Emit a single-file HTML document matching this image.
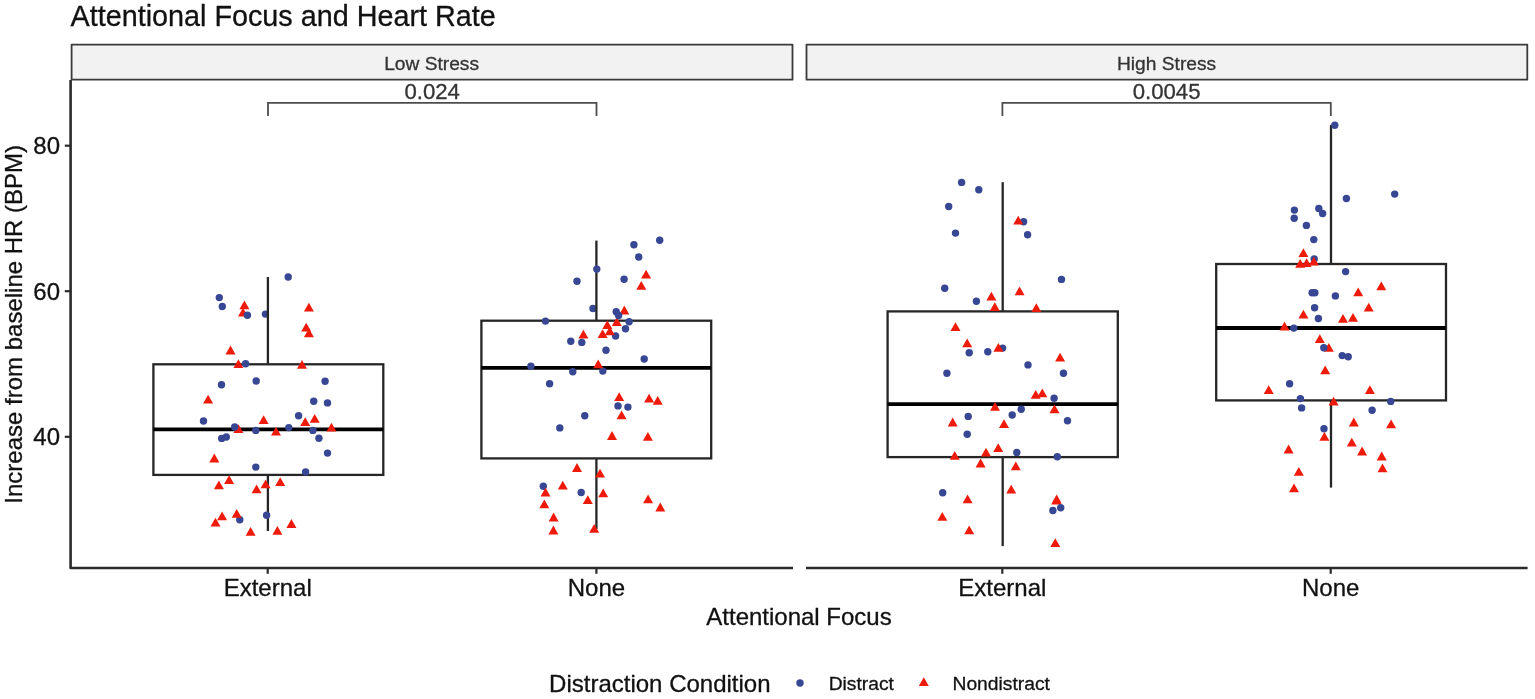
<!DOCTYPE html>
<html lang="en">
<head>
<meta charset="utf-8">
<title>Attentional Focus and Heart Rate</title>
<style>
html,body{margin:0;padding:0;background:#fff;}
body{width:1535px;height:699px;overflow:hidden;}
svg{display:block;}
text{font-family:"Liberation Sans",Arial,Helvetica,sans-serif;stroke-width:0.3px;paint-order:stroke fill;}
text.d{stroke:#111;}
text.g{stroke:#333;}
</style>
</head>
<body>
<svg width="1535" height="699" viewBox="0 0 1535 699">
<rect x="0" y="0" width="1535" height="699" fill="#ffffff"/>

<text x="70.6" y="25.9" font-size="28.75" fill="#111" class="d">Attentional Focus and Heart Rate</text>
<rect x="71.6" y="44.6" width="720.9" height="35.1" fill="#f2f2f2" stroke="#3a3a3a" stroke-width="1.8" stroke-linejoin="round"/>
<rect x="806.5" y="44.6" width="720.8" height="35.1" fill="#f2f2f2" stroke="#3a3a3a" stroke-width="1.8" stroke-linejoin="round"/>
<text x="431.6" y="69.8" font-size="19.2" text-anchor="middle" fill="#333" class="g">Low Stress</text>
<text x="1166.6" y="69.8" font-size="19.2" text-anchor="middle" fill="#333" class="g">High Stress</text>
<polyline points="268.0,116.0 268.0,102.9 596.5,102.9 596.5,116.0" fill="none" stroke="#4d4d4d" stroke-width="1.8"/>
<text x="432.2" y="98.5" font-size="22.2" text-anchor="middle" fill="#333" class="g">0.024</text>
<polyline points="1002.4,116.0 1002.4,102.9 1330.8,102.9 1330.8,116.0" fill="none" stroke="#4d4d4d" stroke-width="1.8"/>
<text x="1166.6" y="98.5" font-size="22.2" text-anchor="middle" fill="#333" class="g">0.0045</text>
<circle cx="265.4" cy="314.1" r="3.7" fill="#384794"/>
<circle cx="593.0" cy="308.5" r="3.7" fill="#384794"/>
<line x1="267.9" y1="277.0" x2="267.9" y2="364.3" stroke="#262626" stroke-width="2.3"/>
<line x1="267.9" y1="474.9" x2="267.9" y2="531.0" stroke="#262626" stroke-width="2.3"/>
<rect x="153.4" y="364.3" width="229.9" height="110.6" fill="none" stroke="#262626" stroke-width="2.3"/>
<line x1="153.4" y1="429.3" x2="383.3" y2="429.3" stroke="#000" stroke-width="3.8"/>
<line x1="596.4" y1="240.6" x2="596.4" y2="320.7" stroke="#262626" stroke-width="2.3"/>
<line x1="596.4" y1="458.4" x2="596.4" y2="529.0" stroke="#262626" stroke-width="2.3"/>
<rect x="481.4" y="320.7" width="229.8" height="137.7" fill="none" stroke="#262626" stroke-width="2.3"/>
<line x1="481.4" y1="367.8" x2="711.2" y2="367.8" stroke="#000" stroke-width="3.8"/>
<line x1="1002.7" y1="182.2" x2="1002.7" y2="311.4" stroke="#262626" stroke-width="2.3"/>
<line x1="1002.7" y1="457.1" x2="1002.7" y2="546.1" stroke="#262626" stroke-width="2.3"/>
<rect x="887.6" y="311.4" width="230.2" height="145.7" fill="none" stroke="#262626" stroke-width="2.3"/>
<line x1="887.6" y1="404.1" x2="1117.8" y2="404.1" stroke="#000" stroke-width="3.8"/>
<line x1="1331.0" y1="125.0" x2="1331.0" y2="264.0" stroke="#262626" stroke-width="2.3"/>
<line x1="1331.0" y1="400.4" x2="1331.0" y2="487.6" stroke="#262626" stroke-width="2.3"/>
<rect x="1216.2" y="264.0" width="229.8" height="136.4" fill="none" stroke="#262626" stroke-width="2.3"/>
<line x1="1216.2" y1="328.0" x2="1446.0" y2="328.0" stroke="#000" stroke-width="3.8"/>
<polygon points="1056.7,494.6 1051.7,503.4 1061.7,503.4" fill="#EE1B0B"/>
<polygon points="243.0,307.8 238.0,316.6 248.0,316.6" fill="#EE1B0B"/>
<polygon points="238.4,424.2 233.4,433.0 243.4,433.0" fill="#EE1B0B"/>
<polygon points="624.3,305.6 619.3,314.4 629.3,314.4" fill="#EE1B0B"/>
<polygon points="616.8,317.2 611.8,326.0 621.8,326.0" fill="#EE1B0B"/>
<polygon points="1056.3,495.7 1051.3,504.5 1061.3,504.5" fill="#EE1B0B"/>
<polygon points="1328.8,343.0 1323.8,351.8 1333.8,351.8" fill="#EE1B0B"/>
<circle cx="288.2" cy="277.0" r="3.7" fill="#384794"/>
<circle cx="219.3" cy="297.6" r="3.7" fill="#384794"/>
<circle cx="222.3" cy="306.5" r="3.7" fill="#384794"/>
<circle cx="247.4" cy="315.3" r="3.7" fill="#384794"/>
<circle cx="245.6" cy="363.7" r="3.7" fill="#384794"/>
<circle cx="256.2" cy="381.0" r="3.7" fill="#384794"/>
<circle cx="221.5" cy="384.8" r="3.7" fill="#384794"/>
<circle cx="325.1" cy="381.2" r="3.7" fill="#384794"/>
<circle cx="313.7" cy="401.2" r="3.7" fill="#384794"/>
<circle cx="327.5" cy="402.9" r="3.7" fill="#384794"/>
<circle cx="203.5" cy="421.0" r="3.7" fill="#384794"/>
<circle cx="298.6" cy="415.8" r="3.7" fill="#384794"/>
<circle cx="234.7" cy="427.0" r="3.7" fill="#384794"/>
<circle cx="255.8" cy="430.4" r="3.7" fill="#384794"/>
<circle cx="288.8" cy="427.6" r="3.7" fill="#384794"/>
<circle cx="312.9" cy="430.4" r="3.7" fill="#384794"/>
<circle cx="221.7" cy="438.4" r="3.7" fill="#384794"/>
<circle cx="226.3" cy="437.0" r="3.7" fill="#384794"/>
<circle cx="318.9" cy="438.2" r="3.7" fill="#384794"/>
<circle cx="327.5" cy="453.1" r="3.7" fill="#384794"/>
<circle cx="255.8" cy="467.1" r="3.7" fill="#384794"/>
<circle cx="305.6" cy="471.9" r="3.7" fill="#384794"/>
<circle cx="239.8" cy="519.8" r="3.7" fill="#384794"/>
<circle cx="266.6" cy="515.2" r="3.7" fill="#384794"/>
<circle cx="659.7" cy="240.2" r="3.7" fill="#384794"/>
<circle cx="633.9" cy="244.8" r="3.7" fill="#384794"/>
<circle cx="638.7" cy="257.0" r="3.7" fill="#384794"/>
<circle cx="596.8" cy="269.1" r="3.7" fill="#384794"/>
<circle cx="577.0" cy="281.3" r="3.7" fill="#384794"/>
<circle cx="624.1" cy="279.3" r="3.7" fill="#384794"/>
<circle cx="616.2" cy="311.7" r="3.7" fill="#384794"/>
<circle cx="618.6" cy="315.5" r="3.7" fill="#384794"/>
<circle cx="545.5" cy="321.1" r="3.7" fill="#384794"/>
<circle cx="629.1" cy="321.7" r="3.7" fill="#384794"/>
<circle cx="625.5" cy="328.7" r="3.7" fill="#384794"/>
<circle cx="615.6" cy="336.0" r="3.7" fill="#384794"/>
<circle cx="570.8" cy="341.2" r="3.7" fill="#384794"/>
<circle cx="581.8" cy="342.4" r="3.7" fill="#384794"/>
<circle cx="606.0" cy="350.2" r="3.7" fill="#384794"/>
<circle cx="644.2" cy="359.0" r="3.7" fill="#384794"/>
<circle cx="530.9" cy="366.2" r="3.7" fill="#384794"/>
<circle cx="572.8" cy="371.7" r="3.7" fill="#384794"/>
<circle cx="602.8" cy="371.1" r="3.7" fill="#384794"/>
<circle cx="549.6" cy="383.7" r="3.7" fill="#384794"/>
<circle cx="618.0" cy="405.9" r="3.7" fill="#384794"/>
<circle cx="627.9" cy="407.1" r="3.7" fill="#384794"/>
<circle cx="584.8" cy="415.7" r="3.7" fill="#384794"/>
<circle cx="559.8" cy="427.9" r="3.7" fill="#384794"/>
<circle cx="543.3" cy="486.3" r="3.7" fill="#384794"/>
<circle cx="581.2" cy="492.5" r="3.7" fill="#384794"/>
<circle cx="961.6" cy="182.4" r="3.7" fill="#384794"/>
<circle cx="978.8" cy="189.8" r="3.7" fill="#384794"/>
<circle cx="948.7" cy="206.5" r="3.7" fill="#384794"/>
<circle cx="1023.6" cy="221.7" r="3.7" fill="#384794"/>
<circle cx="955.5" cy="233.1" r="3.7" fill="#384794"/>
<circle cx="1027.6" cy="234.7" r="3.7" fill="#384794"/>
<circle cx="1061.5" cy="279.4" r="3.7" fill="#384794"/>
<circle cx="944.7" cy="288.2" r="3.7" fill="#384794"/>
<circle cx="976.4" cy="301.3" r="3.7" fill="#384794"/>
<circle cx="1002.6" cy="348.1" r="3.7" fill="#384794"/>
<circle cx="969.2" cy="352.7" r="3.7" fill="#384794"/>
<circle cx="987.8" cy="351.7" r="3.7" fill="#384794"/>
<circle cx="1028.0" cy="364.9" r="3.7" fill="#384794"/>
<circle cx="946.9" cy="373.3" r="3.7" fill="#384794"/>
<circle cx="1063.5" cy="373.3" r="3.7" fill="#384794"/>
<circle cx="1054.1" cy="398.3" r="3.7" fill="#384794"/>
<circle cx="1021.2" cy="409.2" r="3.7" fill="#384794"/>
<circle cx="1012.2" cy="415.0" r="3.7" fill="#384794"/>
<circle cx="968.2" cy="416.4" r="3.7" fill="#384794"/>
<circle cx="1067.5" cy="420.8" r="3.7" fill="#384794"/>
<circle cx="967.2" cy="434.3" r="3.7" fill="#384794"/>
<circle cx="1016.8" cy="452.4" r="3.7" fill="#384794"/>
<circle cx="1057.3" cy="456.7" r="3.7" fill="#384794"/>
<circle cx="942.7" cy="492.7" r="3.7" fill="#384794"/>
<circle cx="1052.9" cy="510.5" r="3.7" fill="#384794"/>
<circle cx="1060.7" cy="507.7" r="3.7" fill="#384794"/>
<circle cx="1334.8" cy="125.2" r="3.7" fill="#384794"/>
<circle cx="1346.4" cy="198.5" r="3.7" fill="#384794"/>
<circle cx="1394.7" cy="194.1" r="3.7" fill="#384794"/>
<circle cx="1294.4" cy="210.1" r="3.7" fill="#384794"/>
<circle cx="1318.8" cy="208.5" r="3.7" fill="#384794"/>
<circle cx="1322.6" cy="213.5" r="3.7" fill="#384794"/>
<circle cx="1294.2" cy="218.2" r="3.7" fill="#384794"/>
<circle cx="1306.4" cy="225.4" r="3.7" fill="#384794"/>
<circle cx="1313.8" cy="239.6" r="3.7" fill="#384794"/>
<circle cx="1314.2" cy="259.0" r="3.7" fill="#384794"/>
<circle cx="1345.6" cy="271.6" r="3.7" fill="#384794"/>
<circle cx="1312.1" cy="292.7" r="3.7" fill="#384794"/>
<circle cx="1314.9" cy="292.7" r="3.7" fill="#384794"/>
<circle cx="1335.4" cy="295.9" r="3.7" fill="#384794"/>
<circle cx="1314.6" cy="307.7" r="3.7" fill="#384794"/>
<circle cx="1318.4" cy="318.5" r="3.7" fill="#384794"/>
<circle cx="1293.8" cy="328.1" r="3.7" fill="#384794"/>
<circle cx="1323.8" cy="347.7" r="3.7" fill="#384794"/>
<circle cx="1342.2" cy="355.6" r="3.7" fill="#384794"/>
<circle cx="1348.2" cy="356.8" r="3.7" fill="#384794"/>
<circle cx="1289.6" cy="383.8" r="3.7" fill="#384794"/>
<circle cx="1300.4" cy="398.6" r="3.7" fill="#384794"/>
<circle cx="1301.6" cy="407.9" r="3.7" fill="#384794"/>
<circle cx="1390.7" cy="401.4" r="3.7" fill="#384794"/>
<circle cx="1372.1" cy="410.3" r="3.7" fill="#384794"/>
<circle cx="1324.0" cy="428.7" r="3.7" fill="#384794"/>
<polygon points="244.4,300.4 239.4,309.2 249.4,309.2" fill="#EE1B0B"/>
<polygon points="308.9,302.8 303.9,311.6 313.9,311.6" fill="#EE1B0B"/>
<polygon points="306.2,322.8 301.2,331.6 311.2,331.6" fill="#EE1B0B"/>
<polygon points="308.9,328.4 303.9,337.2 313.9,337.2" fill="#EE1B0B"/>
<polygon points="230.5,345.6 225.5,354.4 235.5,354.4" fill="#EE1B0B"/>
<polygon points="238.4,359.2 233.4,368.0 243.4,368.0" fill="#EE1B0B"/>
<polygon points="302.0,360.0 297.0,368.8 307.0,368.8" fill="#EE1B0B"/>
<polygon points="208.1,394.7 203.1,403.5 213.1,403.5" fill="#EE1B0B"/>
<polygon points="263.6,415.3 258.6,424.1 268.6,424.1" fill="#EE1B0B"/>
<polygon points="305.2,417.3 300.2,426.1 310.2,426.1" fill="#EE1B0B"/>
<polygon points="314.7,413.9 309.7,422.7 319.7,422.7" fill="#EE1B0B"/>
<polygon points="276.0,426.7 271.0,435.5 281.0,435.5" fill="#EE1B0B"/>
<polygon points="331.5,422.7 326.5,431.5 336.5,431.5" fill="#EE1B0B"/>
<polygon points="214.3,453.6 209.3,462.4 219.3,462.4" fill="#EE1B0B"/>
<polygon points="229.1,475.2 224.1,484.0 234.1,484.0" fill="#EE1B0B"/>
<polygon points="218.9,480.4 213.9,489.2 223.9,489.2" fill="#EE1B0B"/>
<polygon points="265.6,479.4 260.6,488.2 270.6,488.2" fill="#EE1B0B"/>
<polygon points="280.2,477.2 275.2,486.0 285.2,486.0" fill="#EE1B0B"/>
<polygon points="256.6,484.4 251.6,493.2 261.6,493.2" fill="#EE1B0B"/>
<polygon points="222.1,511.5 217.1,520.3 227.1,520.3" fill="#EE1B0B"/>
<polygon points="236.7,508.9 231.7,517.7 241.7,517.7" fill="#EE1B0B"/>
<polygon points="215.5,517.7 210.5,526.5 220.5,526.5" fill="#EE1B0B"/>
<polygon points="250.6,526.9 245.6,535.7 255.6,535.7" fill="#EE1B0B"/>
<polygon points="277.4,525.9 272.4,534.7 282.4,534.7" fill="#EE1B0B"/>
<polygon points="291.4,519.1 286.4,527.9 296.4,527.9" fill="#EE1B0B"/>
<polygon points="646.1,269.8 641.1,278.6 651.1,278.6" fill="#EE1B0B"/>
<polygon points="641.3,281.0 636.3,289.8 646.3,289.8" fill="#EE1B0B"/>
<polygon points="607.3,320.3 602.3,329.1 612.3,329.1" fill="#EE1B0B"/>
<polygon points="609.8,326.5 604.8,335.3 614.8,335.3" fill="#EE1B0B"/>
<polygon points="602.6,329.3 597.6,338.1 607.6,338.1" fill="#EE1B0B"/>
<polygon points="583.4,329.7 578.4,338.5 588.4,338.5" fill="#EE1B0B"/>
<polygon points="598.2,359.5 593.2,368.3 603.2,368.3" fill="#EE1B0B"/>
<polygon points="619.2,392.2 614.2,401.0 624.2,401.0" fill="#EE1B0B"/>
<polygon points="649.1,393.8 644.1,402.6 654.1,402.6" fill="#EE1B0B"/>
<polygon points="657.7,396.0 652.7,404.8 662.7,404.8" fill="#EE1B0B"/>
<polygon points="621.6,410.4 616.6,419.2 626.6,419.2" fill="#EE1B0B"/>
<polygon points="612.0,431.1 607.0,439.9 617.0,439.9" fill="#EE1B0B"/>
<polygon points="647.9,431.9 642.9,440.7 652.9,440.7" fill="#EE1B0B"/>
<polygon points="577.0,463.1 572.0,471.9 582.0,471.9" fill="#EE1B0B"/>
<polygon points="600.0,468.8 595.0,477.6 605.0,477.6" fill="#EE1B0B"/>
<polygon points="562.8,480.8 557.8,489.6 567.8,489.6" fill="#EE1B0B"/>
<polygon points="545.5,487.8 540.5,496.6 550.5,496.6" fill="#EE1B0B"/>
<polygon points="603.2,488.4 598.2,497.2 608.2,497.2" fill="#EE1B0B"/>
<polygon points="587.8,495.2 582.8,504.0 592.8,504.0" fill="#EE1B0B"/>
<polygon points="544.3,499.4 539.3,508.2 549.3,508.2" fill="#EE1B0B"/>
<polygon points="648.1,494.4 643.1,503.2 653.1,503.2" fill="#EE1B0B"/>
<polygon points="660.3,502.6 655.3,511.4 665.3,511.4" fill="#EE1B0B"/>
<polygon points="553.6,512.6 548.6,521.4 558.6,521.4" fill="#EE1B0B"/>
<polygon points="553.4,525.6 548.4,534.4 558.4,534.4" fill="#EE1B0B"/>
<polygon points="594.2,524.0 589.2,532.8 599.2,532.8" fill="#EE1B0B"/>
<polygon points="1018.2,215.8 1013.2,224.6 1023.2,224.6" fill="#EE1B0B"/>
<polygon points="1019.6,286.5 1014.6,295.3 1024.6,295.3" fill="#EE1B0B"/>
<polygon points="991.4,291.8 986.4,300.6 996.4,300.6" fill="#EE1B0B"/>
<polygon points="994.8,302.3 989.8,311.1 999.8,311.1" fill="#EE1B0B"/>
<polygon points="1036.3,303.3 1031.3,312.1 1041.3,312.1" fill="#EE1B0B"/>
<polygon points="955.5,322.3 950.5,331.1 960.5,331.1" fill="#EE1B0B"/>
<polygon points="967.2,338.4 962.2,347.2 972.2,347.2" fill="#EE1B0B"/>
<polygon points="998.4,343.0 993.4,351.8 1003.4,351.8" fill="#EE1B0B"/>
<polygon points="1060.1,352.8 1055.1,361.6 1065.1,361.6" fill="#EE1B0B"/>
<polygon points="1035.7,390.0 1030.7,398.8 1040.7,398.8" fill="#EE1B0B"/>
<polygon points="1042.3,388.4 1037.3,397.2 1047.3,397.2" fill="#EE1B0B"/>
<polygon points="995.0,401.9 990.0,410.7 1000.0,410.7" fill="#EE1B0B"/>
<polygon points="1054.5,404.5 1049.5,413.3 1059.5,413.3" fill="#EE1B0B"/>
<polygon points="952.7,417.6 947.7,426.4 957.7,426.4" fill="#EE1B0B"/>
<polygon points="1004.0,419.3 999.0,428.1 1009.0,428.1" fill="#EE1B0B"/>
<polygon points="998.2,443.3 993.2,452.1 1003.2,452.1" fill="#EE1B0B"/>
<polygon points="986.0,447.7 981.0,456.5 991.0,456.5" fill="#EE1B0B"/>
<polygon points="954.7,450.9 949.7,459.7 959.7,459.7" fill="#EE1B0B"/>
<polygon points="980.6,458.6 975.6,467.4 985.6,467.4" fill="#EE1B0B"/>
<polygon points="1015.8,461.4 1010.8,470.2 1020.8,470.2" fill="#EE1B0B"/>
<polygon points="1011.2,484.8 1006.2,493.6 1016.2,493.6" fill="#EE1B0B"/>
<polygon points="967.6,494.4 962.6,503.2 972.6,503.2" fill="#EE1B0B"/>
<polygon points="942.3,512.0 937.3,520.8 947.3,520.8" fill="#EE1B0B"/>
<polygon points="969.2,525.5 964.2,534.3 974.2,534.3" fill="#EE1B0B"/>
<polygon points="1055.3,538.3 1050.3,547.1 1060.3,547.1" fill="#EE1B0B"/>
<polygon points="1303.4,248.3 1298.4,257.1 1308.4,257.1" fill="#EE1B0B"/>
<polygon points="1300.2,258.9 1295.2,267.7 1305.2,267.7" fill="#EE1B0B"/>
<polygon points="1306.6,258.3 1301.6,267.1 1311.6,267.1" fill="#EE1B0B"/>
<polygon points="1313.8,256.7 1308.8,265.5 1318.8,265.5" fill="#EE1B0B"/>
<polygon points="1381.3,281.4 1376.3,290.2 1386.3,290.2" fill="#EE1B0B"/>
<polygon points="1358.2,287.4 1353.2,296.2 1363.2,296.2" fill="#EE1B0B"/>
<polygon points="1368.7,302.8 1363.7,311.6 1373.7,311.6" fill="#EE1B0B"/>
<polygon points="1303.4,309.8 1298.4,318.6 1308.4,318.6" fill="#EE1B0B"/>
<polygon points="1343.0,314.0 1338.0,322.8 1348.0,322.8" fill="#EE1B0B"/>
<polygon points="1353.0,313.0 1348.0,321.8 1358.0,321.8" fill="#EE1B0B"/>
<polygon points="1284.5,321.6 1279.5,330.4 1289.5,330.4" fill="#EE1B0B"/>
<polygon points="1319.8,334.2 1314.8,343.0 1324.8,343.0" fill="#EE1B0B"/>
<polygon points="1325.2,365.5 1320.2,374.3 1330.2,374.3" fill="#EE1B0B"/>
<polygon points="1268.7,385.3 1263.7,394.1 1273.7,394.1" fill="#EE1B0B"/>
<polygon points="1369.9,385.3 1364.9,394.1 1374.9,394.1" fill="#EE1B0B"/>
<polygon points="1333.6,396.7 1328.6,405.5 1338.6,405.5" fill="#EE1B0B"/>
<polygon points="1353.8,417.6 1348.8,426.4 1358.8,426.4" fill="#EE1B0B"/>
<polygon points="1391.1,419.4 1386.1,428.2 1396.1,428.2" fill="#EE1B0B"/>
<polygon points="1324.4,432.0 1319.4,440.8 1329.4,440.8" fill="#EE1B0B"/>
<polygon points="1351.8,437.8 1346.8,446.6 1356.8,446.6" fill="#EE1B0B"/>
<polygon points="1288.6,444.6 1283.6,453.4 1293.6,453.4" fill="#EE1B0B"/>
<polygon points="1362.1,446.6 1357.1,455.4 1367.1,455.4" fill="#EE1B0B"/>
<polygon points="1381.7,451.6 1376.7,460.4 1386.7,460.4" fill="#EE1B0B"/>
<polygon points="1382.5,463.4 1377.5,472.2 1387.5,472.2" fill="#EE1B0B"/>
<polygon points="1298.8,467.0 1293.8,475.8 1303.8,475.8" fill="#EE1B0B"/>
<polygon points="1294.0,483.5 1289.0,492.3 1299.0,492.3" fill="#EE1B0B"/>
<polyline points="70.6,80 70.6,568 793,568" fill="none" stroke="#2b2b2b" stroke-width="2.6" stroke-linejoin="round"/>
<line x1="806" y1="568" x2="1527.6" y2="568" stroke="#2b2b2b" stroke-width="2.6"/>
<line x1="64.8" y1="145.7" x2="70" y2="145.7" stroke="#2b2b2b" stroke-width="2.2"/>
<text x="60" y="154.1" font-size="24" text-anchor="end" fill="#111" class="d">80</text>
<line x1="64.8" y1="291.2" x2="70" y2="291.2" stroke="#2b2b2b" stroke-width="2.2"/>
<text x="60" y="299.6" font-size="24" text-anchor="end" fill="#111" class="d">60</text>
<line x1="64.8" y1="436.8" x2="70" y2="436.8" stroke="#2b2b2b" stroke-width="2.2"/>
<text x="60" y="445.2" font-size="24" text-anchor="end" fill="#111" class="d">40</text>
<line x1="267.7" y1="568" x2="267.7" y2="573.8" stroke="#2b2b2b" stroke-width="2.2"/>
<text x="267.7" y="596.4" font-size="24" text-anchor="middle" fill="#111" class="d">External</text>
<line x1="596.4" y1="568" x2="596.4" y2="573.8" stroke="#2b2b2b" stroke-width="2.2"/>
<text x="596.4" y="596.4" font-size="24" text-anchor="middle" fill="#111" class="d">None</text>
<line x1="1002.3" y1="568" x2="1002.3" y2="573.8" stroke="#2b2b2b" stroke-width="2.2"/>
<text x="1002.3" y="596.4" font-size="24" text-anchor="middle" fill="#111" class="d">External</text>
<line x1="1330.7" y1="568" x2="1330.7" y2="573.8" stroke="#2b2b2b" stroke-width="2.2"/>
<text x="1330.7" y="596.4" font-size="24" text-anchor="middle" fill="#111" class="d">None</text>
<text x="799" y="625.2" font-size="24" text-anchor="middle" fill="#111" class="d">Attentional Focus</text>
<text transform="translate(22,324.3) rotate(-90)" font-size="24" text-anchor="middle" fill="#111" class="d">Increase from baseline HR (BPM)</text>
<text x="549.1" y="691.8" font-size="24" fill="#111" class="d">Distraction Condition</text>
<circle cx="800.0" cy="683.0" r="3.7" fill="#384794"/>
<text x="828.7" y="690.2" font-size="19.25" fill="#111" class="d">Distract</text>
<polygon points="923.8,677.3 918.8,686.1 928.8,686.1" fill="#EE1B0B"/>
<text x="952.5" y="690.2" font-size="19.25" fill="#111" class="d">Nondistract</text>
</svg>
</body>
</html>
